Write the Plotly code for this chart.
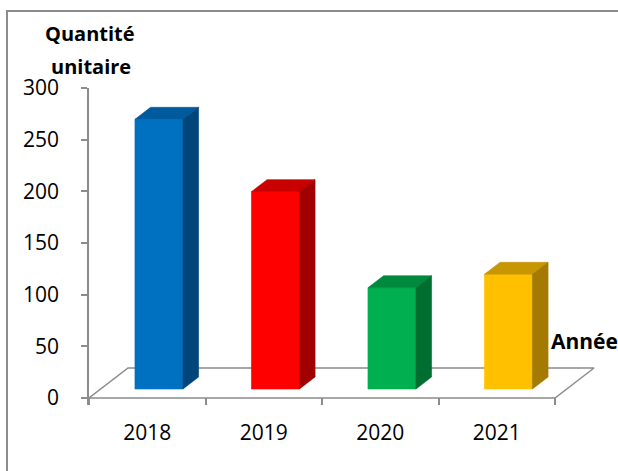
import plotly.graph_objects as go

# ---- data -------------------------------------------------------------
years = ["2018", "2019", "2020", "2021"]
quantities = [261, 191, 98, 111]
front_colors = ["#0070C0", "#FF0000", "#00B050", "#FFC000"]
top_colors = ["#005A9E", "#C80000", "#008A3E", "#C89600"]
side_colors = ["#00467A", "#A00000", "#006E31", "#A57A00"]
y_ticks = [0, 50, 100, 150, 200, 250, 300]

# ---- geometry of the oblique 3-D look ---------------------------------
W, H = 618, 471
L_PX, R_PX = 89, 600          # plot area (pixels)
T_PX, B_PX = 88, 405
Y_MIN, Y_MAX = -6.774, 300
X_MAX = (R_PX - L_PX) / 116.5

DEPTH_X = 0.335               # floor depth, in category units
DEPTH_Y = 29.0                # floor depth, in value units
BAR_FRONT = 0.3               # bars occupy depth 0.3 .. 0.7 of the floor
BAR_BACK = 0.7
BAR_W = 0.412

GRAY = "#8c8c8c"

fig = go.Figure()

# floor
fx = [0, len(years), len(years) + DEPTH_X, DEPTH_X, 0]
fy = [0, 0, DEPTH_Y, DEPTH_Y, 0]
fig.add_trace(go.Scatter(x=fx, y=fy, mode="lines", fill="toself",
                         fillcolor="white", line=dict(color=GRAY, width=1.5),
                         hoverinfo="skip", showlegend=False))

# columns: front, top and right-hand faces
fdx, fdy = BAR_FRONT * DEPTH_X, BAR_FRONT * DEPTH_Y
bdx, bdy = (BAR_BACK - BAR_FRONT) * DEPTH_X, (BAR_BACK - BAR_FRONT) * DEPTH_Y
for i, (yr, v) in enumerate(zip(years, quantities)):
    cx = i + 0.5 + fdx
    x0, x1 = cx - BAR_W / 2, cx + BAR_W / 2
    y0, y1 = fdy, fdy + v
    faces = [
        ([x0, x1, x1, x0, x0], [y0, y0, y1, y1, y0], front_colors[i]),
        ([x0, x1, x1 + bdx, x0 + bdx, x0], [y1, y1, y1 + bdy, y1 + bdy, y1], top_colors[i]),
        ([x1, x1 + bdx, x1 + bdx, x1, x1], [y0, y0 + bdy, y1 + bdy, y1, y0], side_colors[i]),
    ]
    for xs, ys, c in faces:
        fig.add_trace(go.Scatter(x=xs, y=ys, mode="lines", fill="toself",
                                 fillcolor=c, line=dict(color=c, width=0.6),
                                 name=yr, hovertemplate=f"{yr}: {v}<extra></extra>",
                                 showlegend=False))


def px_x(px):
    return (px - L_PX) / (R_PX - L_PX)


def px_y(py):
    return (B_PX - py) / (B_PX - T_PX)


FONT = "'Open Sans', sans-serif"
TITLE_FONT = dict(size=20, weight="bold", family=FONT, color="black")

fig.update_layout(
    width=W, height=H,
    margin=dict(l=L_PX, r=W - R_PX, t=T_PX, b=H - B_PX, pad=0),
    paper_bgcolor="white", plot_bgcolor="white",
    font=dict(family=FONT, size=21, color="black"),
    xaxis=dict(range=[0, X_MAX], showgrid=False, zeroline=False, showline=False,
               tickmode="array", tickvals=[i + 0.5 for i in range(len(years))],
               ticktext=years, ticks="", ticklabelstandoff=13,
               minor=dict(tickmode="array", tickvals=list(range(len(years) + 1)),
                          ticks="inside", ticklen=7, tickwidth=1.5,
                          tickcolor=GRAY, showgrid=False),
               fixedrange=True),
    yaxis=dict(range=[Y_MIN, Y_MAX], showgrid=False, zeroline=False,
               showline=True, linecolor=GRAY, linewidth=1.5,
               tickmode="array", tickvals=y_ticks, ticks="outside",
               ticklen=6, tickwidth=1.5, tickcolor=GRAY,
               ticklabelstandoff=18, fixedrange=True),
    shapes=[dict(type="rect", xref="paper", yref="paper",
                 x0=px_x(7), x1=px_x(640), y0=px_y(11), y1=px_y(500),
                 line=dict(color=GRAY, width=2), fillcolor="rgba(0,0,0,0)",
                 layer="below")],
    annotations=[
        dict(text="Quantité", xref="paper", yref="paper", x=px_x(90), y=px_y(34),
             showarrow=False, xanchor="center", yanchor="middle", font=TITLE_FONT),
        dict(text="unitaire", xref="paper", yref="paper", x=px_x(91), y=px_y(67),
             showarrow=False, xanchor="center", yanchor="middle", font=TITLE_FONT),
        dict(text="Année", xref="paper", yref="paper", x=px_x(549), y=px_y(341),
             showarrow=False, xanchor="left", yanchor="middle",
             font=dict(TITLE_FONT, size=21)),
    ],
)

fig.write_html("out.html", config={"displayModeBar": False})
